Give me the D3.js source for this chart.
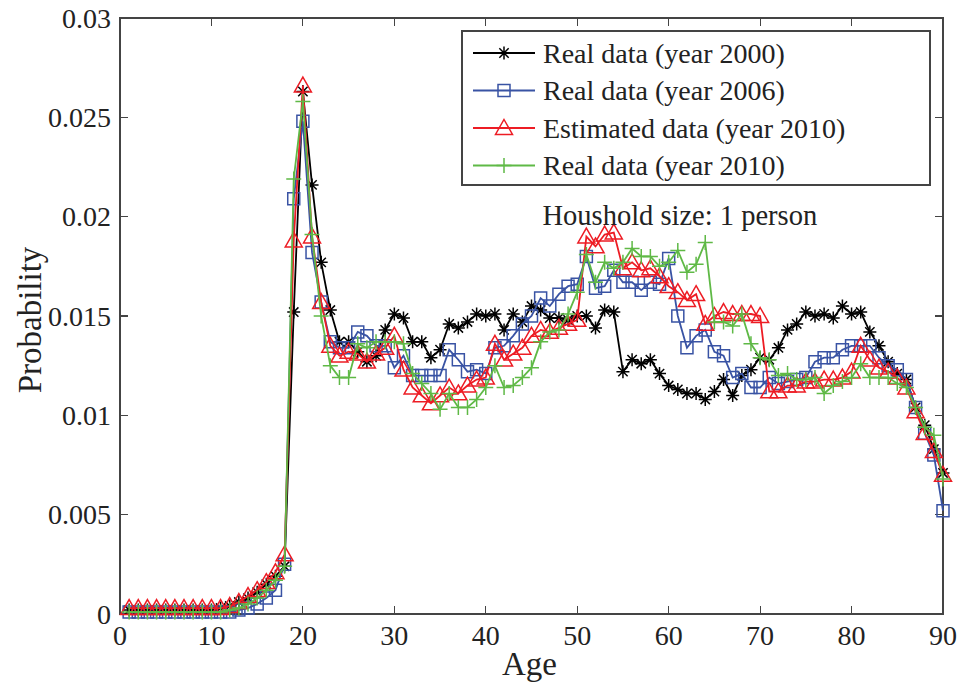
<!DOCTYPE html>
<meta charset="utf-8">
<title>Household size 1 person</title>
<style>

body {
  margin: 0;
  background: #fff;
}

svg text {
  font-family: "Liberation Serif", "Times New Roman", serif;
  fill: #222;
}

.frame line,
.frame rect {
  stroke: #444;
  stroke-width: 1.2;
  fill: none;
  shape-rendering: crispEdges;
}

</style>
<body>
<script src="https://cdnjs.cloudflare.com/ajax/libs/d3/7.8.5/d3.min.js"></script>
<script>

// ages 1..90
var ages = d3.range(1, 91);

var real2000 = [
  0.0002, 0.0002, 0.0002, 0.0002, 0.0002, 0.0002, 0.0002, 0.0002, 0.0002, 0.0002,
  0.0003, 0.0004, 0.0006, 0.0008, 0.0011, 0.0015, 0.0019, 0.0024, 0.0152, 0.0263,
  0.0216, 0.0177, 0.0153, 0.0137, 0.0137, 0.0132, 0.0127, 0.0130, 0.0143, 0.0151,
  0.0149, 0.0137, 0.0137, 0.0129, 0.0133, 0.0146, 0.0144, 0.0147, 0.0151, 0.0150,
  0.0151, 0.0143, 0.0151, 0.0147, 0.0155, 0.0153, 0.0149, 0.0149, 0.0148, 0.0150,
  0.0150, 0.0144, 0.0153, 0.0152, 0.0122, 0.0128, 0.0126, 0.0128, 0.0121, 0.0115,
  0.0113, 0.0111, 0.0111, 0.0108, 0.0112, 0.0118, 0.0110, 0.0120, 0.0123, 0.0129,
  0.0128, 0.0134, 0.0143, 0.0146, 0.0152, 0.0150, 0.0151, 0.0149, 0.0155, 0.0151,
  0.0152, 0.0142, 0.0135, 0.0127, 0.0121, 0.0118, 0.0104, 0.0095, 0.0083, 0.0071
];

var real2006 = [
  0.0001, 0.0001, 0.0001, 0.0001, 0.0001, 0.0001, 0.0001, 0.0001, 0.0001, 0.0001,
  0.0001, 0.0001, 0.0002, 0.0003, 0.0005, 0.0008, 0.0012, 0.0025, 0.0209, 0.0248,
  0.0182, 0.0157, 0.0137, 0.0134, 0.0134, 0.0142, 0.0140, 0.0135, 0.0135, 0.0124,
  0.0130, 0.0120, 0.0120, 0.0120, 0.0120, 0.0133, 0.0128, 0.0122, 0.0123, 0.0121,
  0.0134, 0.0135, 0.0140, 0.0146, 0.0150, 0.0159, 0.0155, 0.0161, 0.0165, 0.0166,
  0.0180, 0.0164, 0.0165, 0.0173, 0.0167, 0.0167, 0.0163, 0.0167, 0.0166, 0.0179,
  0.0150, 0.0134, 0.0140, 0.0143, 0.0132, 0.0130, 0.0119, 0.0121, 0.0114, 0.0114,
  0.0119, 0.0116, 0.0117, 0.0118, 0.0119, 0.0127, 0.0129, 0.0129, 0.0133, 0.0135,
  0.0135, 0.0135, 0.0129, 0.0125, 0.0123, 0.0118, 0.0104, 0.0091, 0.0080, 0.0052
];

var est2010 = [
  0.0003, 0.0003, 0.0003, 0.0003, 0.0003, 0.0003, 0.0003, 0.0003, 0.0003, 0.0003,
  0.0003, 0.0004, 0.0006, 0.0009, 0.0012, 0.0016, 0.0021, 0.0030, 0.0188, 0.0266,
  0.0190, 0.0157, 0.0135, 0.0130, 0.0132, 0.0131, 0.0127, 0.0131, 0.0134, 0.0140,
  0.0123, 0.0114, 0.0110, 0.0106, 0.0110, 0.0114, 0.0111, 0.0115, 0.0118, 0.0119,
  0.0136, 0.0128, 0.0131, 0.0134, 0.0140, 0.0143, 0.0142, 0.0144, 0.0146, 0.0148,
  0.0190, 0.0185, 0.0191, 0.0192, 0.0174, 0.0177, 0.0173, 0.0174, 0.0170, 0.0165,
  0.0162, 0.0158, 0.0161, 0.0146, 0.0150, 0.0152, 0.0151, 0.0151, 0.0151, 0.0150,
  0.0112, 0.0112, 0.0115, 0.0115, 0.0117, 0.0117, 0.0118, 0.0118, 0.0119, 0.0122,
  0.0135, 0.0128, 0.0124, 0.0122, 0.0119, 0.0114, 0.0102, 0.0091, 0.0082, 0.0070
];

var real2010 = [
  0.0001, 0.0001, 0.0001, 0.0001, 0.0001, 0.0001, 0.0001, 0.0001, 0.0001, 0.0001,
  0.0001, 0.0002, 0.0003, 0.0005, 0.0008, 0.0012, 0.0017, 0.0024, 0.0219, 0.0258,
  0.0191, 0.0150, 0.0125, 0.0119, 0.0119, 0.0136, 0.0134, 0.0137, 0.0137, 0.0137,
  0.0136, 0.0121, 0.0116, 0.0111, 0.0103, 0.0111, 0.0104, 0.0104, 0.0108, 0.0114,
  0.0125, 0.0114, 0.0115, 0.0119, 0.0124, 0.0137, 0.0142, 0.0143, 0.0151, 0.0162,
  0.0181, 0.0167, 0.0177, 0.0174, 0.0177, 0.0184, 0.0180, 0.0180, 0.0175, 0.0177,
  0.0183, 0.0172, 0.0176, 0.0187, 0.0147, 0.0147, 0.0145, 0.0151, 0.0136, 0.0129,
  0.0128, 0.0120, 0.0121, 0.0118, 0.0118, 0.0119, 0.0111, 0.0115, 0.0117, 0.0119,
  0.0126, 0.0119, 0.0119, 0.0119, 0.0116, 0.0114, 0.0104, 0.0094, 0.0090, 0.0068
];

var seriesNames = ["Real data (year 2000)", "Real data (year 2006)",
                   "Estimated data (year 2010)", "Real data (year 2010)"];
var seriesValues = [real2000, real2006, est2010, real2010];
var seriesColors = ["#000000", "#3953a4", "#ed1c24", "#5fb946"];
var seriesMarkers = ["star", "square", "triangle", "plus"];

var xTicks = [0, 10, 20, 30, 40, 50, 60, 70, 80, 90];
var yTicks = [0, 0.005, 0.01, 0.015, 0.02, 0.025, 0.03];
var yTickLabels = ["0", "0.005", "0.01", "0.015", "0.02", "0.025", "0.03"];

var note = "Houshold size: 1 person";

var W = 974, H = 683;
var margin = {top: 18, right: 31, bottom: 69, left: 120},
    width = W - margin.left - margin.right,
    height = H - margin.top - margin.bottom;

var x = d3.scaleLinear().domain([0, 90]).range([0, width]);
var y = d3.scaleLinear().domain([0, 0.03]).range([height, 0]);

var svg = d3.select("body").append("svg")
    .attr("width", W)
    .attr("height", H);

var g = svg.append("g")
    .attr("transform", "translate(" + margin.left + "," + margin.top + ")");

// marker shapes, centred at 0,0
function markerPath(type) {
  var p = d3.path();
  if (type === "star") {
    var r = 6.5;
    p.moveTo(-r, 0); p.lineTo(r, 0);
    p.moveTo(0, -r); p.lineTo(0, r);
    p.moveTo(-r * 0.72, -r * 0.72); p.lineTo(r * 0.72, r * 0.72);
    p.moveTo(-r * 0.72, r * 0.72); p.lineTo(r * 0.72, -r * 0.72);
  } else if (type === "square") {
    var s = 6;
    p.rect(-s, -s, 2 * s, 2 * s);
  } else if (type === "triangle") {
    var t = 8.5;
    p.moveTo(0, -t); p.lineTo(t, t * 0.75); p.lineTo(-t, t * 0.75); p.closePath();
  } else if (type === "plus") {
    var q = 7.5;
    p.moveTo(-q, 0); p.lineTo(q, 0);
    p.moveTo(0, -q); p.lineTo(0, q);
  }
  return p.toString();
}

// frame and ticks (MATLAB style, inside, on all four sides)
var frame = g.append("g").attr("class", "frame");
frame.append("rect")
    .attr("x", 0).attr("y", 0)
    .attr("width", width).attr("height", height);

var tl = 8;
xTicks.forEach(function(t) {
  frame.append("line").attr("x1", x(t)).attr("x2", x(t)).attr("y1", height).attr("y2", height - tl);
  frame.append("line").attr("x1", x(t)).attr("x2", x(t)).attr("y1", 0).attr("y2", tl);
});
yTicks.forEach(function(t) {
  frame.append("line").attr("x1", 0).attr("x2", tl).attr("y1", y(t)).attr("y2", y(t));
  frame.append("line").attr("x1", width).attr("x2", width - tl).attr("y1", y(t)).attr("y2", y(t));
});

g.selectAll(".xlab")
    .data(xTicks)
  .enter().append("text")
    .attr("class", "xlab")
    .attr("x", function(d) { return x(d); })
    .attr("y", height + 31)
    .style("text-anchor", "middle")
    .style("font-size", "28px")
    .text(function(d) { return d; });

g.selectAll(".ylab")
    .data(yTicks)
  .enter().append("text")
    .attr("class", "ylab")
    .attr("x", -9)
    .attr("y", function(d) { return y(d); })
    .attr("dy", "0.35em")
    .style("text-anchor", "end")
    .style("font-size", "28px")
    .text(function(d, i) { return yTickLabels[i]; });

svg.append("text")
    .attr("x", margin.left + width / 2 - 2)
    .attr("y", 675)
    .style("text-anchor", "middle")
    .style("font-size", "33px")
    .text("Age");

svg.append("text")
    .attr("transform", "translate(41," + (margin.top + height / 2 + 4) + ") rotate(-90)")
    .style("text-anchor", "middle")
    .style("font-size", "33px")
    .text("Probability");

// series
var line = d3.line()
    .x(function(d, i) { return x(ages[i]); })
    .y(function(d) { return y(d); });

seriesValues.forEach(function(vals, k) {
  var sg = g.append("g");
  sg.append("path")
      .datum(vals)
      .attr("d", line)
      .attr("fill", "none")
      .attr("stroke", seriesColors[k])
      .attr("stroke-width", 1.8);
  sg.selectAll(".m")
      .data(vals)
    .enter().append("path")
      .attr("class", "m")
      .attr("transform", function(d, i) { return "translate(" + x(ages[i]) + "," + y(d) + ")"; })
      .attr("d", markerPath(seriesMarkers[k]))
      .attr("fill", "none")
      .attr("stroke", seriesColors[k])
      .attr("stroke-width", 1.5);
});

// note
g.append("text")
    .attr("x", x(46.2))
    .attr("y", y(0.0196))
    .style("font-size", "28.5px")
    .text(note);

// legend
var lg = svg.append("g").attr("transform", "translate(462,31)");
lg.append("rect")
    .attr("width", 468).attr("height", 154)
    .attr("fill", "#fff")
    .attr("stroke", "#444")
    .attr("stroke-width", 1.2)
    .style("shape-rendering", "crispEdges");

var rows = lg.selectAll(".row")
    .data(seriesNames)
  .enter().append("g")
    .attr("transform", function(d, i) { return "translate(0," + (22 + i * 37.5) + ")"; });

rows.append("line")
    .attr("x1", 11).attr("x2", 73)
    .attr("stroke", function(d, i) { return seriesColors[i]; })
    .attr("stroke-width", 1.8);

rows.append("path")
    .attr("transform", "translate(42,0)")
    .attr("d", function(d, i) { return markerPath(seriesMarkers[i]); })
    .attr("fill", "none")
    .attr("stroke", function(d, i) { return seriesColors[i]; })
    .attr("stroke-width", 1.5);

rows.append("text")
    .attr("x", 81)
    .attr("dy", "0.35em")
    .style("font-size", "28px")
    .text(function(d) { return d; });

</script>
</body>
